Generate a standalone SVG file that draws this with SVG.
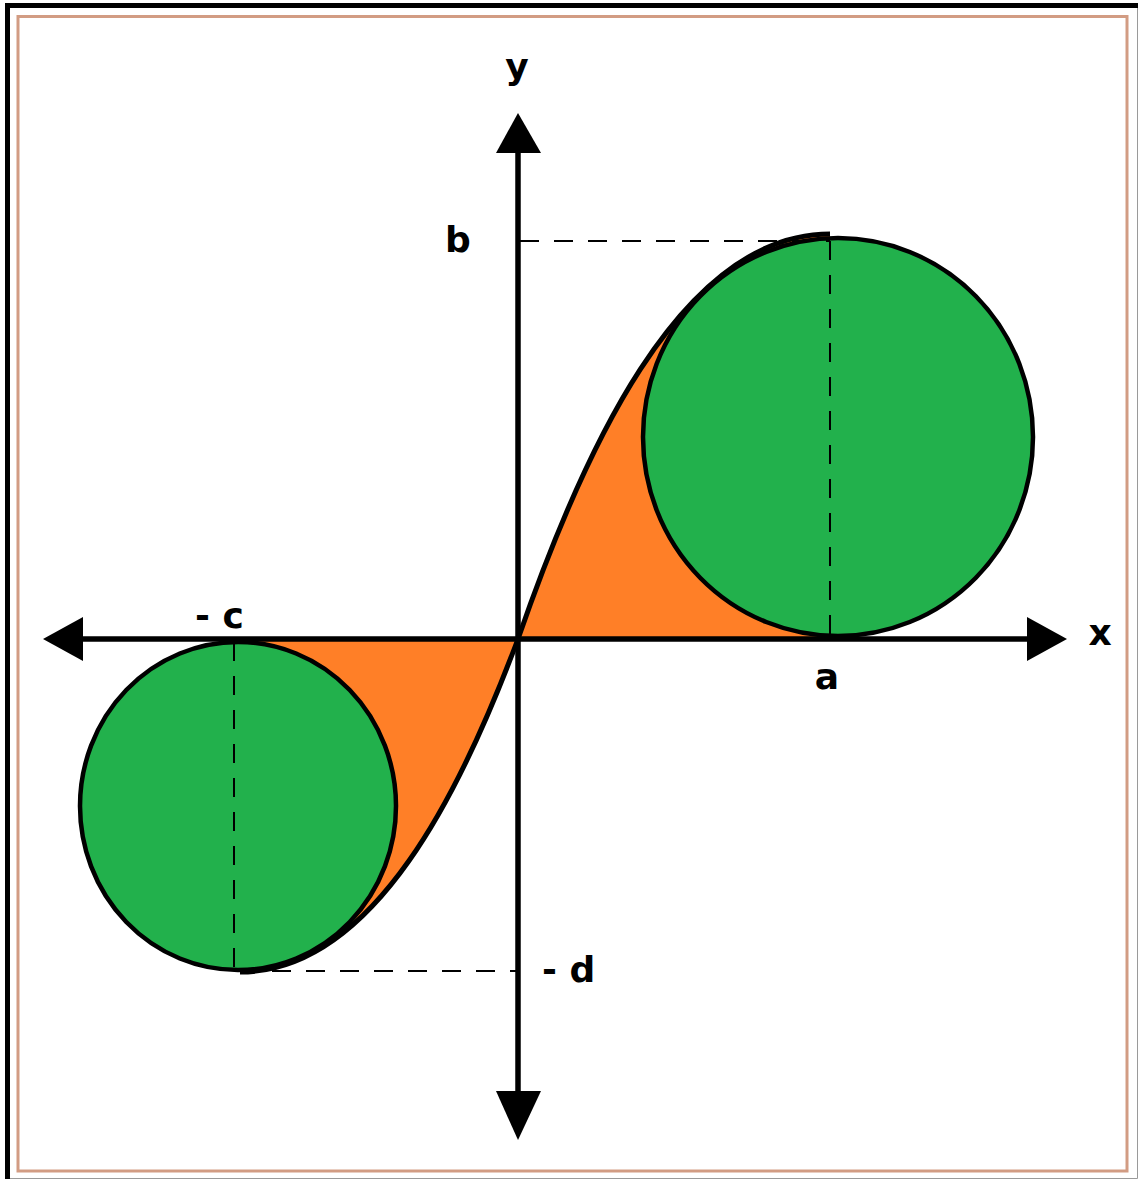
<svg xmlns="http://www.w3.org/2000/svg" width="1138" height="1179" viewBox="0 0 1138 1179">
<style>
.lbl{font-family:"DejaVu Sans","Liberation Sans",sans-serif;font-weight:bold;font-size:36px;fill:#000}
.dash{stroke:#000;stroke-width:2;stroke-dasharray:19 15;fill:none}
.green{fill:#22B14C;stroke:#000;stroke-width:4.5}
.orange{fill:#FF7F27;stroke:none}
.axis{stroke:#000;stroke-width:5.5;fill:none}
.curve{stroke:#000;stroke-width:5;fill:none}
</style>
<rect x="0" y="0" width="1138" height="1179" fill="#fff"/>
<g id="frame">
<path d="M7.5 1179 V5.5 H1138" fill="none" stroke="#000" stroke-width="5"/>
<path d="M1137.5 8 V1178.5 H10" fill="none" stroke="#9a9a9a" stroke-width="1"/>
<rect x="18" y="16.5" width="1109" height="1154.5" fill="none" stroke="#D29C83" stroke-width="3"/>
</g>
<g id="region-top" class="orange">
<path d="M518 639 C580 460 678 234 830 234 L830 639 Z"/>
</g>
<g id="region-bottom" class="orange">
<path d="M518 639 C463 786.5 375 972 240 972 L240 639 Z"/>
</g>
<g id="circle-top">
<ellipse class="green" cx="838" cy="437" rx="195" ry="199"/>
</g>
<g id="circle-bottom">
<ellipse class="green" cx="238" cy="806" rx="158" ry="164"/>
</g>
<g id="guides">
<line class="dash" x1="520" y1="241" x2="830" y2="241"/>
<line class="dash" x1="830" y1="241" x2="830" y2="637"/>
<line class="dash" x1="238" y1="971" x2="516" y2="971"/>
<line class="dash" x1="234" y1="642" x2="234" y2="970"/>
</g>
<g id="curve">
<path class="curve" d="M240 972 C375 972 463 786.5 518 639 C580 460 678 234 830 234"/>
</g>
<g id="connectors">
<line class="axis" x1="518" y1="150" x2="518" y2="1094"/>
<line class="axis" x1="80" y1="639" x2="1030" y2="639"/>
<polygon points="518,113 496,153 541,153" fill="#000"/>
<polygon points="518,1140 496,1091 541,1091" fill="#000"/>
<polygon points="1067,639 1027,617 1027,661" fill="#000"/>
<polygon points="43,639 83,617 83,661" fill="#000"/>
</g>
<g id="labels">
<text class="lbl" x="517" y="79" text-anchor="middle">y</text>
<text class="lbl" x="458" y="252" text-anchor="middle">b</text>
<text class="lbl" x="1100" y="645" text-anchor="middle">x</text>
<text class="lbl" x="827" y="689" text-anchor="middle">a</text>
<text class="lbl" x="195" y="628">- c</text>
<text class="lbl" x="542" y="982">- d</text>
</g>
</svg>
